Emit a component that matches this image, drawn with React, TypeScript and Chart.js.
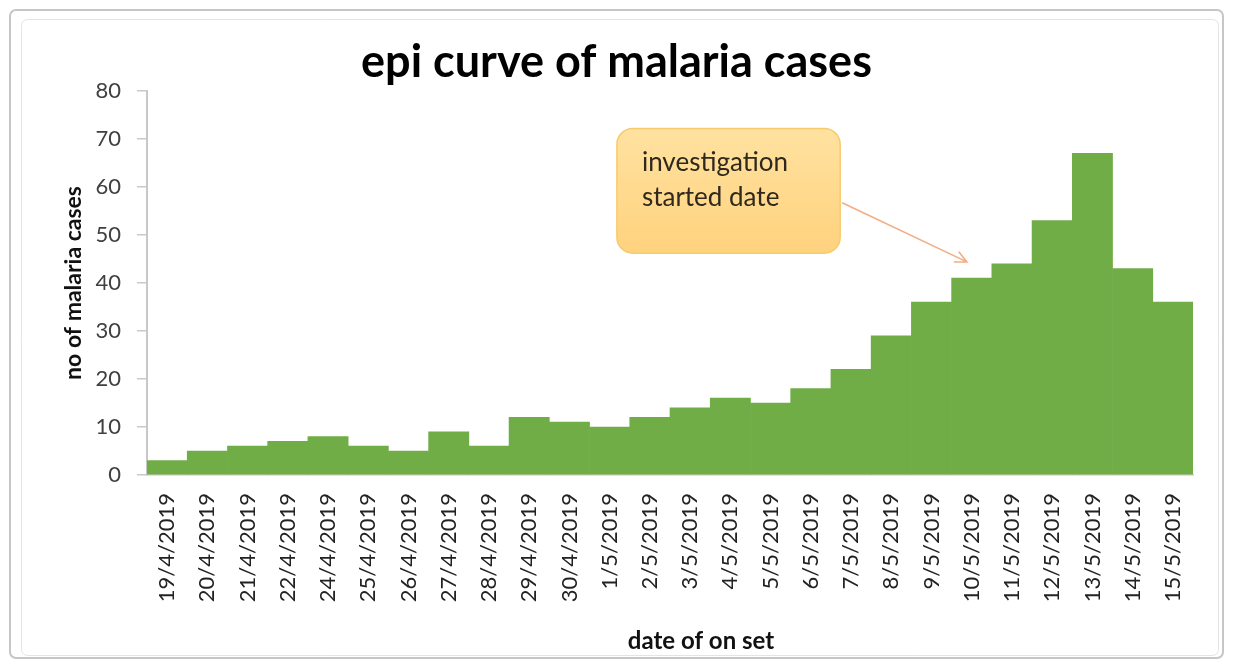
import { useEffect, useRef } from "react";
import { Chart, registerables } from "chart.js";

Chart.register(...registerables);

// Daily case counts by date of onset
const onsetDates = [
  "19/4/2019", "20/4/2019", "21/4/2019", "22/4/2019", "24/4/2019", "25/4/2019",
  "26/4/2019", "27/4/2019", "28/4/2019", "29/4/2019", "30/4/2019", "1/5/2019",
  "2/5/2019", "3/5/2019", "4/5/2019", "5/5/2019", "6/5/2019", "7/5/2019",
  "8/5/2019", "9/5/2019", "10/5/2019", "11/5/2019", "12/5/2019", "13/5/2019",
  "14/5/2019", "15/5/2019",
];
const malariaCases = [
  3, 5, 6, 7, 8, 6, 5, 9, 6, 12, 11, 10, 12, 14, 16, 15, 18, 22, 29, 36, 41, 44,
  53, 67, 43, 36,
];
const yAxisMin = 0;
const yAxisMax = 80;
const yAxisStep = 10;

const chartTitle = "epi curve of malaria cases";
const yTitle = "no of malaria cases";
const xTitle = "date of on set";
const calloutLines = ["investigation", "started date"];
const calloutTargetDate = "10/5/2019";
const calloutTargetCases = 44.4;

// Callout placement in axis units (category index / case count)
const calloutBox = { fromIndex: 11.18, toIndex: 16.73, top: 72.2, bottom: 46.2, arrowFrom: 56.7 };

const FONT = "Lato, 'Open Sans', sans-serif";

const decorations = {
  id: "epiDecorations",
  beforeDraw(chart: any) {
    const { ctx, width, height } = chart;
    ctx.save();
    ctx.fillStyle = "#ffffff";
    ctx.fillRect(0, 0, width, height);
    // outer chart frame
    ctx.strokeStyle = "#c6c6c6";
    ctx.lineWidth = 2;
    ctx.beginPath();
    ctx.roundRect(10, 10, width - 20, height - 19, 6);
    ctx.stroke();
    ctx.strokeStyle = "#e4e4e4";
    ctx.lineWidth = 1;
    ctx.beginPath();
    ctx.roundRect(21.5, 19.5, width - 36, height - 31, 6);
    ctx.stroke();
    ctx.restore();
  },
  afterDraw(chart: any) {
    const { ctx, chartArea } = chart;
    const xs = chart.scales.x;
    const ys = chart.scales.y;
    ctx.save();

    // x-axis title
    ctx.font = `bold 24px ${FONT}`;
    ctx.fillStyle = "#111111";
    ctx.textAlign = "center";
    ctx.textBaseline = "middle";
    ctx.fillText(xTitle, (chartArea.left + chartArea.right) / 2 + 31, 641);

    // callout box
    const bx1 = xs.getPixelForValue(calloutBox.fromIndex);
    const bx2 = xs.getPixelForValue(calloutBox.toIndex);
    const by1 = ys.getPixelForValue(calloutBox.top);
    const by2 = ys.getPixelForValue(calloutBox.bottom);
    const grad = ctx.createLinearGradient(0, by1, 0, by2);
    grad.addColorStop(0, "#ffe2a0");
    grad.addColorStop(1, "#ffd27e");
    ctx.fillStyle = grad;
    ctx.strokeStyle = "#f7cb6c";
    ctx.lineWidth = 1.5;
    ctx.beginPath();
    ctx.roundRect(bx1, by1, bx2 - bx1, by2 - by1, 16);
    ctx.fill();
    ctx.stroke();

    ctx.font = `26px ${FONT}`;
    ctx.fillStyle = "#2f281d";
    ctx.textAlign = "left";
    ctx.textBaseline = "alphabetic";
    calloutLines.forEach((line, i) => {
      ctx.fillText(line, bx1 + 25, by1 + 43 + i * 35);
    });

    // arrow toward the first investigation day
    const ax1 = bx2 + 2;
    const ay1 = ys.getPixelForValue(calloutBox.arrowFrom);
    const ax2 = xs.getPixelForValue(onsetDates.indexOf(calloutTargetDate) - 0.12);
    const ay2 = ys.getPixelForValue(calloutTargetCases);
    ctx.strokeStyle = "#f2ae82";
    ctx.lineWidth = 1.6;
    ctx.beginPath();
    ctx.moveTo(ax1, ay1);
    ctx.lineTo(ax2, ay2);
    const ang = Math.atan2(ay2 - ay1, ax2 - ax1);
    const head = 13;
    ctx.moveTo(ax2 - head * Math.cos(ang - 0.45), ay2 - head * Math.sin(ang - 0.45));
    ctx.lineTo(ax2, ay2);
    ctx.lineTo(ax2 - head * Math.cos(ang + 0.45), ay2 - head * Math.sin(ang + 0.45));
    ctx.stroke();
    ctx.restore();
  },
};

export default function App() {
  const canvasRef = useRef<HTMLCanvasElement | null>(null);

  useEffect(() => {
    const canvas = canvasRef.current;
    if (!canvas) return;
    const chart = new Chart(canvas, {
      type: "bar",
      data: {
        labels: onsetDates,
        datasets: [
          {
            label: "cases",
            data: malariaCases,
            backgroundColor: "#70ad47",
            borderWidth: 0,
            barPercentage: 1,
            categoryPercentage: 1,
          },
        ],
      },
      options: {
        responsive: false,
        animation: false,
        layout: { padding: { left: 40, right: 40, top: 0, bottom: 0 } },
        plugins: {
          legend: { display: false },
          tooltip: { enabled: false },
          title: {
            display: true,
            text: chartTitle,
            color: "#000000",
            font: { family: FONT, size: 45, weight: "bold", lineHeight: 1.2 },
            padding: { top: 35, bottom: 2 },
          },
        },
        scales: {
          x: {
            grid: { display: false, drawTicks: false },
            border: { display: true, color: "#c8c8c8", width: 1.5 },
            ticks: {
              autoSkip: false,
              minRotation: 90,
              maxRotation: 90,
              padding: 18,
              color: "#222222",
              font: { family: FONT, size: 22 },
            },
            afterFit(scale: any) {
              scale.height = 192;
            },
          },
          y: {
            min: yAxisMin,
            max: yAxisMax,
            grid: { drawOnChartArea: false, drawTicks: true, tickLength: 10, color: "#c8c8c8", lineWidth: 1.5 },
            border: { display: true, color: "#c8c8c8", width: 2 },
            ticks: {
              stepSize: yAxisStep,
              padding: 16,
              color: "#404040",
              font: { family: FONT, size: 22 },
            },
            title: {
              display: true,
              text: yTitle,
              color: "#111111",
              font: { family: FONT, size: 23, weight: "bold", lineHeight: 1.2 },
              padding: { top: 20, bottom: 0 },
            },
            afterFit(scale: any) {
              scale.width = 107;
            },
          },
        },
      },
      plugins: [decorations],
    });
    return () => chart.destroy();
  }, []);

  return (
    <div style={{ position: "fixed", left: 0, top: 0, width: 1233, height: 667, background: "#fff" }}>
      <canvas ref={canvasRef} width={1233} height={667} />
    </div>
  );
}
